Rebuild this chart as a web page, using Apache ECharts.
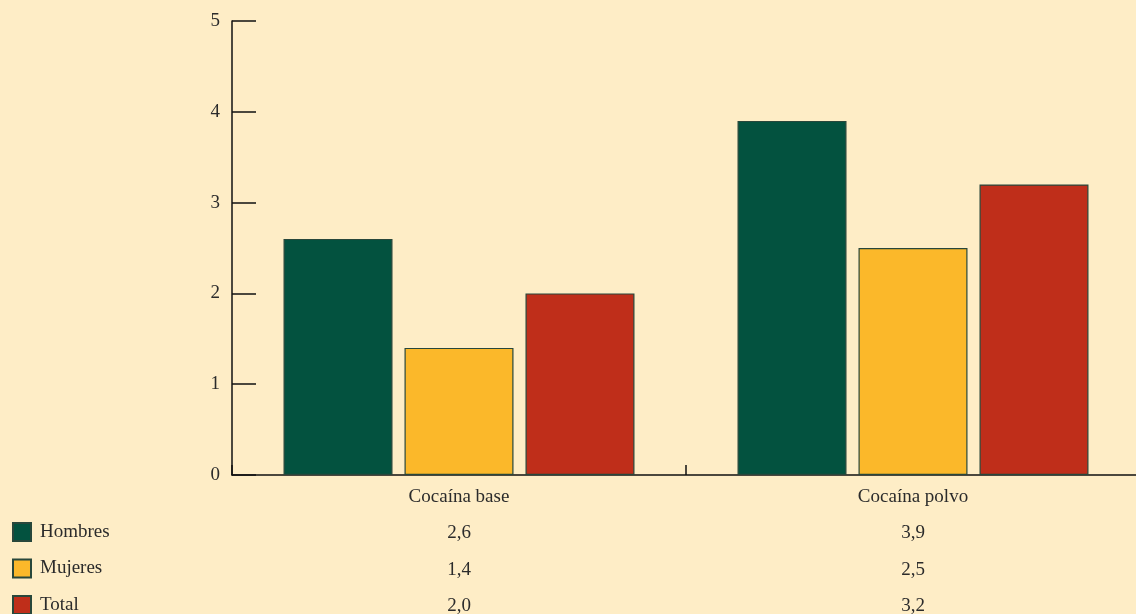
<!DOCTYPE html>
<html><head><meta charset="utf-8">
<script src="https://cdn.jsdelivr.net/npm/echarts@6/dist/echarts.min.js"></script>
<style>html,body{margin:0;padding:0;background:#feedc6;}#c{width:1136px;height:614px;}</style>
</head><body><div id="c"></div>
<script>
const categories = ['Cocaína base', 'Cocaína polvo'];
const seriesNames = ['Hombres', 'Mujeres', 'Total'];
const hombres = [2.6, 3.9];
const mujeres = [1.4, 2.5];
const total = [2.0, 3.2];
const yTicks = [0, 1, 2, 3, 4, 5];
const colors = ['#03523f', '#fbb82a', '#bf2e1a'];
const seriesData = [hombres, mujeres, total];
const fmt = v => v.toFixed(1).replace('.', ',');
const font = '"Liberation Serif", "Times New Roman", serif';

const chart = echarts.init(document.getElementById('c'));
chart.setOption({
  backgroundColor: '#feedc6',
  animation: false,
  textStyle: { fontFamily: font },
  grid: { left: 232, top: 21, bottom: 139, width: 908, outerBoundsMode: 'none', containLabel: false },
  legend: {
    orient: 'vertical', left: 7, top: 517, height: 120,
    itemWidth: 18, itemHeight: 18, itemGap: 16.5,
    icon: 'rect',
    data: seriesNames,
    textStyle: { fontFamily: font, fontSize: 19, color: '#2b2b2b', padding: [0, 0, 0, 4] }
  },
  xAxis: {
    type: 'category', data: categories,
    axisLine: { lineStyle: { color: '#111', width: 1.5 } },
    axisTick: { show: true, interval: 0, inside: true, length: 10, lineStyle: { color: '#111', width: 1.5 } },
    axisLabel: {
      interval: 0, margin: 4, fontFamily: font, fontSize: 19, color: '#2b2b2b', lineHeight: 36.3,
      formatter: (v, i) => [v].concat(seriesData.map(s => fmt(s[i]))).join('\n')
    }
  },
  yAxis: {
    type: 'value', min: yTicks[0], max: yTicks[yTicks.length - 1], interval: 1,
    splitLine: { show: false },
    axisLine: { show: true, lineStyle: { color: '#111', width: 1.5 } },
    axisTick: { show: true, inside: true, length: 24, lineStyle: { color: '#111', width: 1.5 } },
    axisLabel: { margin: 12, fontFamily: font, fontSize: 19, color: '#2b2b2b' }
  },
  series: seriesNames.map((n, k) => ({
    name: n, type: 'bar', data: seriesData[k],
    barWidth: 109, barGap: '11%',
    itemStyle: { color: colors[k], borderColor: '#28473b', borderWidth: 1.2 }
  }))
});
</script></body></html>
